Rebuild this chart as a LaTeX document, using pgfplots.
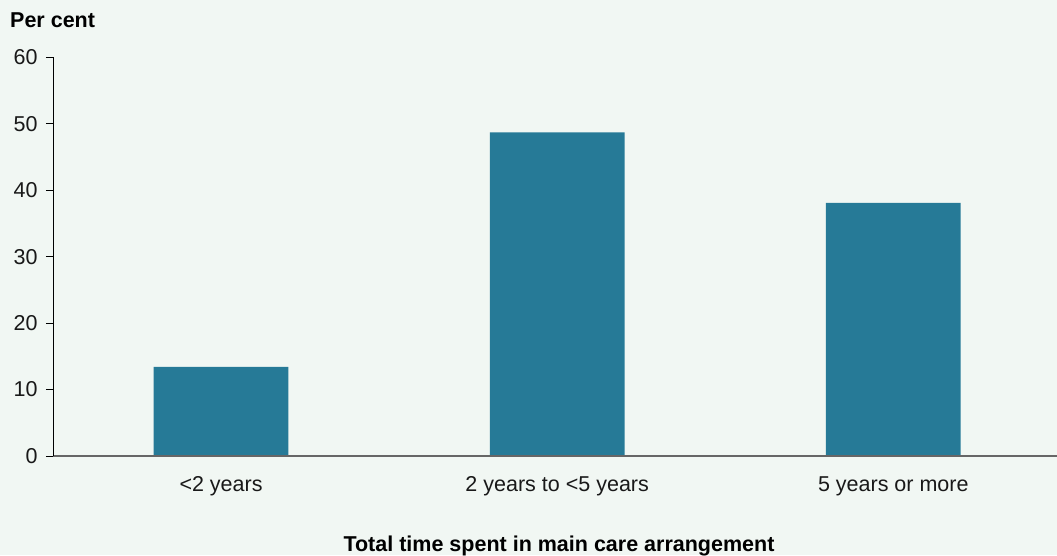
\documentclass[border=0pt]{standalone}
\usepackage{pgfplots}
\pgfplotsset{compat=1.18}
\usepackage{fontspec}
\setmainfont{Liberation Sans}
\definecolor{bg}{HTML}{F1F7F3}
\definecolor{barc}{HTML}{267A97}
\definecolor{xax}{HTML}{666666}
\begin{document}
\begin{tikzpicture}[x=1pt,y=1pt]
\fill[bg] (0,0) rectangle (1057,555);
\useasboundingbox (0,0) rectangle (1057,555);
\begin{axis}[
  at={(53pt,99pt)}, anchor=south west,
  scale only axis, width=1004pt, height=398.7pt,
  xmin=-0.5, xmax=2.487, ymin=0, ymax=60,
  axis x line*=bottom, axis y line*=left,
  x axis line style={draw=xax, line width=1.6pt, -},
  y axis line style={draw=black, line width=1pt, -},
  xtick=data, xticklabels={{<2 years},{2 years to <5 years},{5 years or more}},
  xtick style={draw=none},
  ytick={0,10,...,60},
  ytick style={draw=black, line width=1pt},
  tick align=outside, major tick length=7pt,
  tick label style={font=\fontsize{21.5}{21.5}\selectfont, text=black!90},
  /pgf/number format/assume math mode=true,
  yticklabel style={xshift=-5pt},
  xticklabel style={yshift=-10pt},
  ybar, bar width=134.7pt,
  axis on top,
]
\addplot[fill=barc, draw=none] coordinates {(0,13.4) (1,48.7) (2,38.1)};
\end{axis}
\node[anchor=base west, inner sep=0pt, font=\bfseries\fontsize{21.5}{21.5}\selectfont] at (10,527) {Per cent};
\node[anchor=base, font=\bfseries\fontsize{21.5}{21.5}\selectfont] at (559,4) {Total time spent in main care arrangement};
\end{tikzpicture}
\end{document}
